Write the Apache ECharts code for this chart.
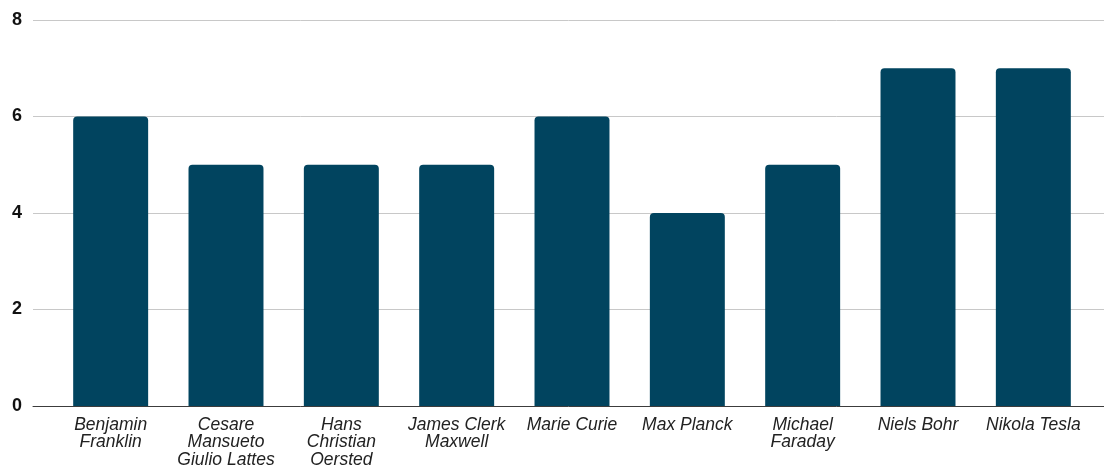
<!DOCTYPE html>
<html>
<head>
<meta charset="utf-8">
<script src="https://cdn.jsdelivr.net/npm/echarts@6/dist/echarts.min.js"></script>
<style>
  html, body { margin: 0; padding: 0; background: #fff; }
  #chart { width: 1104px; height: 471px; }
</style>
</head>
<body>
<div id="chart"></div>
<script>
// Scientists and their scores
const categories = [
  'Benjamin Franklin',
  'Cesare Mansueto Giulio Lattes',
  'Hans Christian Oersted',
  'James Clerk Maxwell',
  'Marie Curie',
  'Max Planck',
  'Michael Faraday',
  'Niels Bohr',
  'Nikola Tesla'
];
const tickLabels = [
  'Benjamin\nFranklin',
  'Cesare\nMansueto\nGiulio Lattes',
  'Hans\nChristian\nOersted',
  'James Clerk\nMaxwell',
  'Marie Curie',
  'Max Planck',
  'Michael\nFaraday',
  'Niels Bohr',
  'Nikola Tesla'
];
const values = [6, 5, 5, 5, 6, 4, 5, 7, 7];
const yTicks = [0, 2, 4, 6, 8];

const FONT = '"Liberation Sans", Arial, sans-serif';
const TOP = 20, BOTTOM = 65;

const chart = echarts.init(document.getElementById('chart'), null, { renderer: 'canvas' });
chart.setOption({
  animation: false,
  backgroundColor: '#ffffff',
  grid: [
    // full-width grid carrying the gridlines, y labels and baseline
    { left: 33, right: 0, top: TOP, bottom: BOTTOM, containLabel: false },
    // inner grid holding the bars
    { left: 53, right: 13, top: TOP, bottom: BOTTOM, containLabel: false }
  ],
  xAxis: [
    {
      gridIndex: 0, type: 'value', min: 0, max: 1,
      axisLine: { show: true, lineStyle: { color: '#3c3c3c', width: 1 } },
      axisTick: { show: false }, axisLabel: { show: false }, splitLine: { show: false },
      z: 5
    },
    {
      gridIndex: 1, type: 'category', data: categories,
      axisLine: { show: false }, axisTick: { show: false },
      axisLabel: {
        interval: 0, margin: 10,
        fontFamily: FONT, fontSize: 17.5, fontStyle: 'italic',
        color: '#222222', lineHeight: 17.5, align: 'center',
        formatter: (v, i) => tickLabels[i]
      }
    }
  ],
  yAxis: [
    {
      gridIndex: 0, type: 'value', min: yTicks[0], max: yTicks[yTicks.length - 1], interval: 2,
      axisLine: { show: false }, axisTick: { show: false },
      axisLabel: { margin: 11, fontFamily: FONT, fontSize: 18, fontWeight: 'bold', color: '#111111' },
      splitLine: { show: true, lineStyle: { color: '#c8c8c8', width: 1 } }
    },
    {
      gridIndex: 1, type: 'value', min: yTicks[0], max: yTicks[yTicks.length - 1], interval: 2,
      show: false
    }
  ],
  series: [{
    type: 'bar',
    xAxisIndex: 1, yAxisIndex: 1,
    data: values,
    barWidth: '65%',
    itemStyle: { color: '#01445f', borderRadius: [4, 4, 0, 0] }
  }]
});
</script>
</body>
</html>
